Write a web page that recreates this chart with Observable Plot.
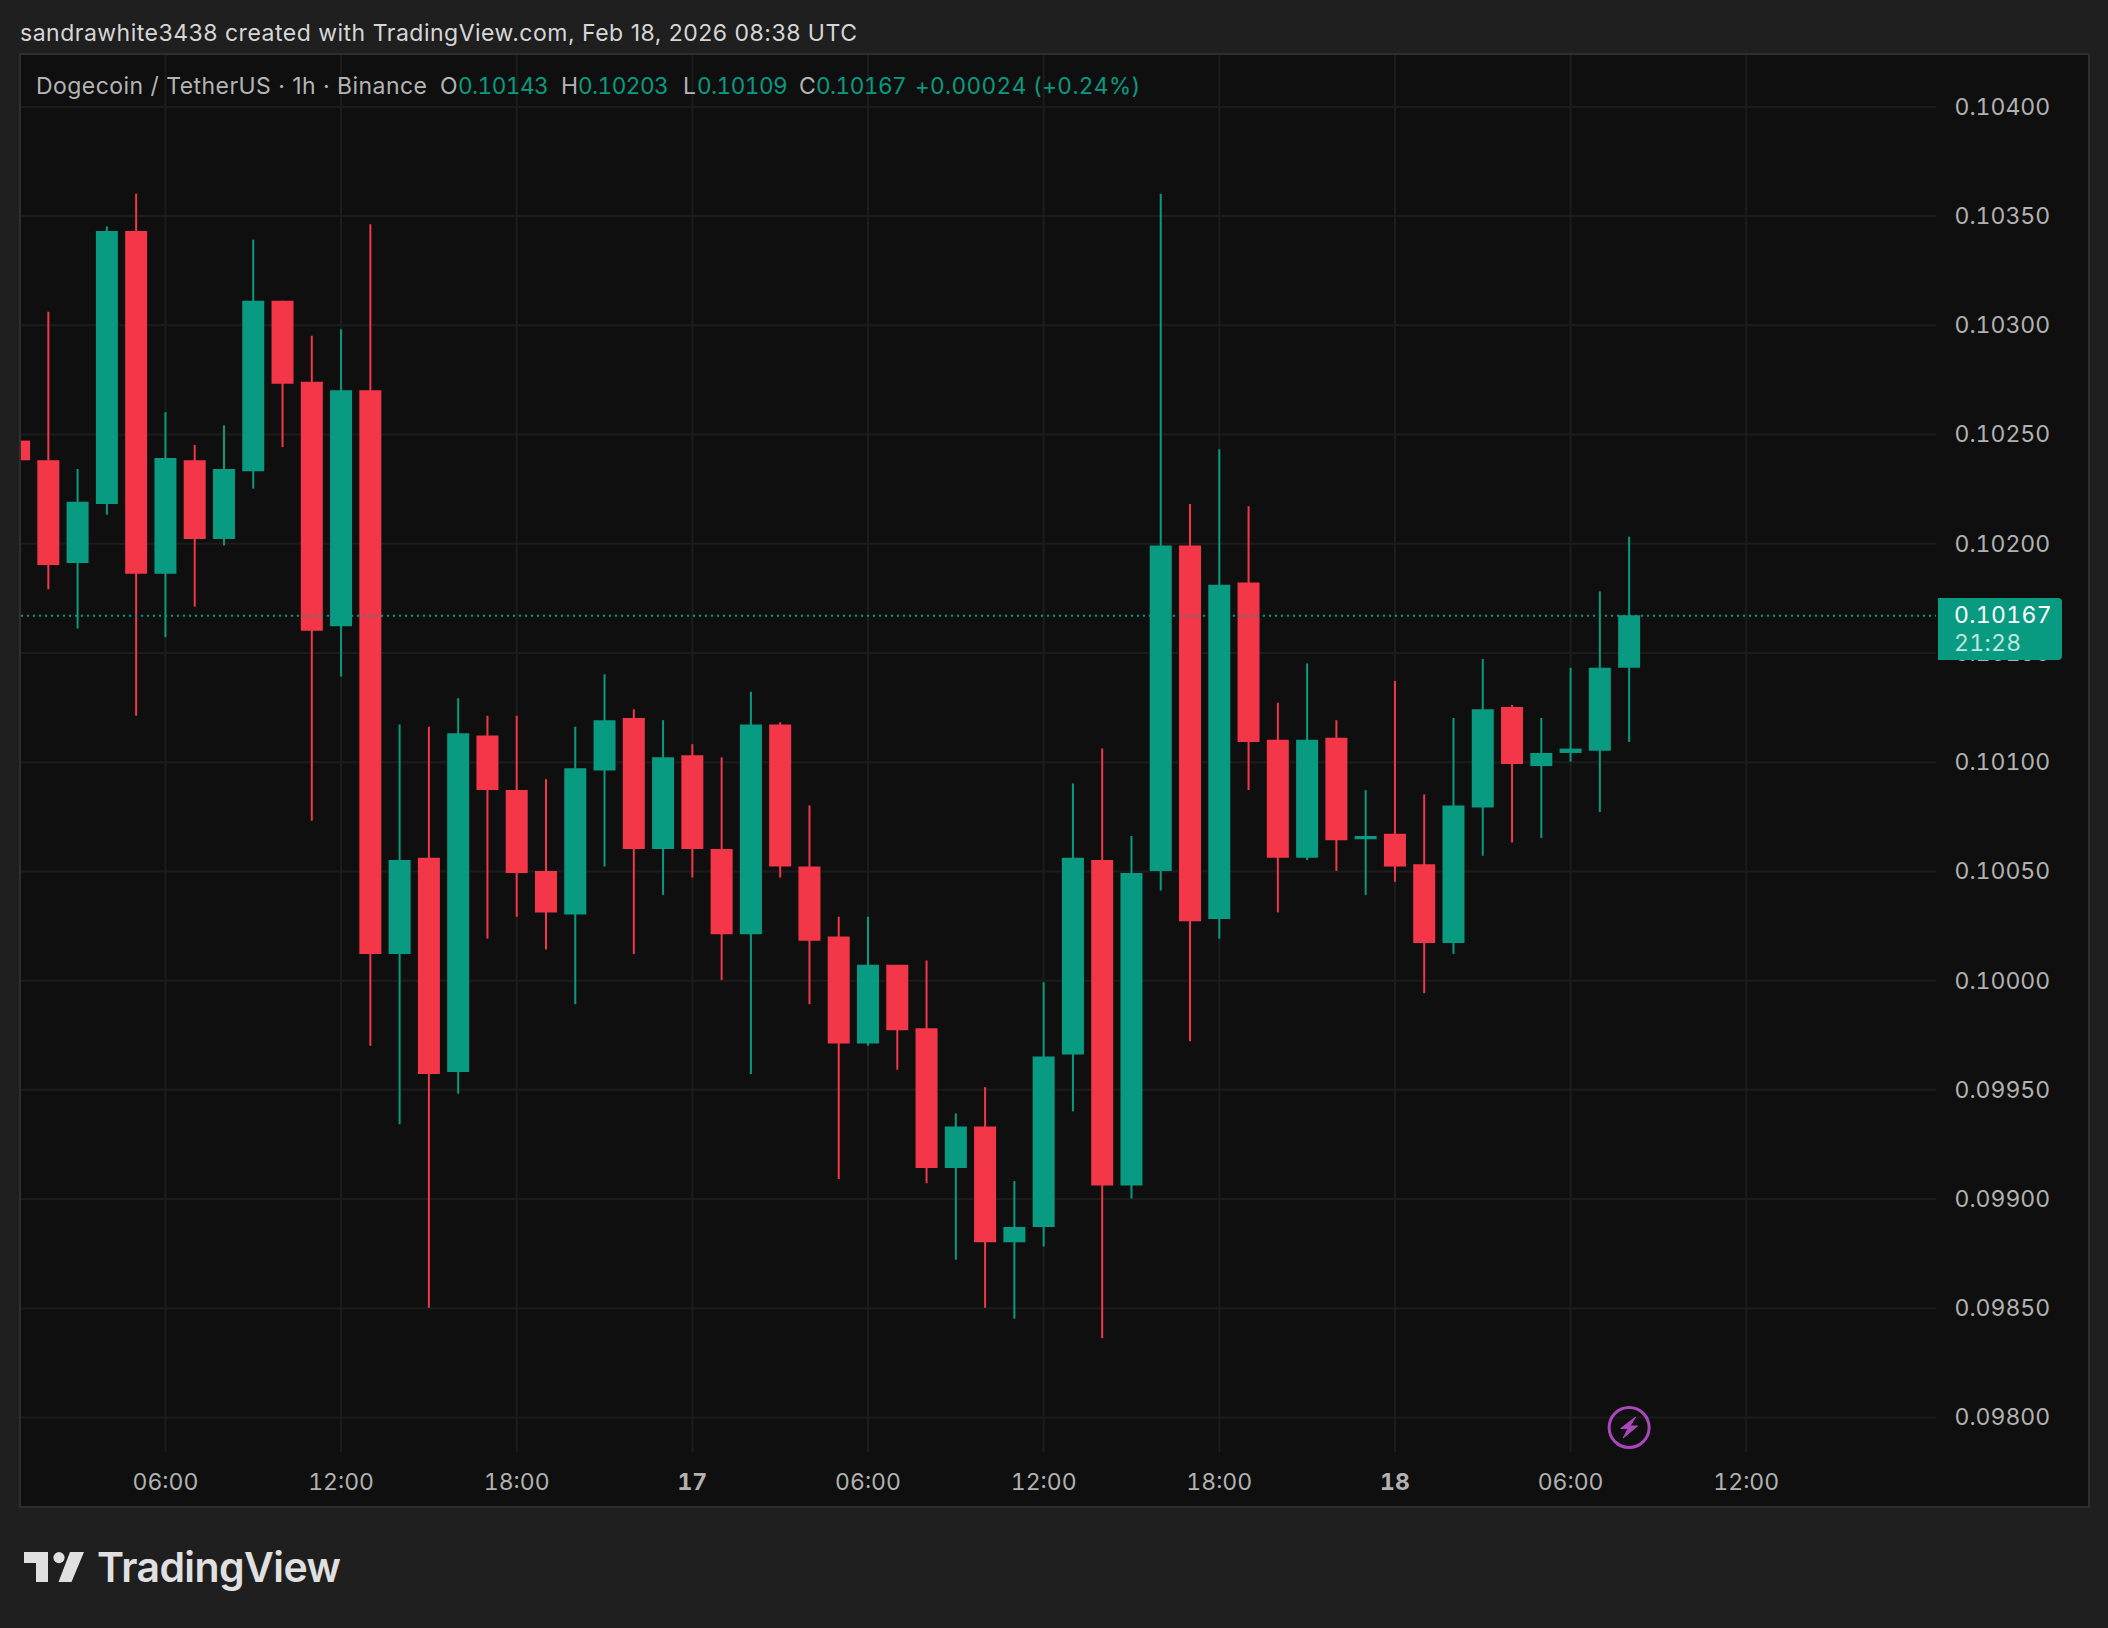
<!DOCTYPE html>
<html>
<head>
<meta charset="utf-8">
<script src="https://cdn.jsdelivr.net/npm/d3@7"></script>
<script src="https://cdn.jsdelivr.net/npm/@observablehq/plot@0.6"></script>
<style>
  html, body { margin: 0; padding: 0; background: #1f1f1f; }
  body { width: 2108px; height: 1628px; position: relative; overflow: hidden; font-family: Inter, sans-serif; }
  #panel { position: absolute; left: 19px; top: 53px; width: 2067px; height: 1451px; border: 2px solid #2e2e2e; background: #0f0f0f; }
  #panel svg { display: block; }
  .t { position: absolute; white-space: pre; }
  #credit { left: 20px; top: 19px; font-size: 23px; letter-spacing: .5px; line-height: 28px; color: #d6d6d6; }
  .lg { top: 72px; font-size: 23px; letter-spacing: .45px; line-height: 28px; color: #b4b4b4; }
  .gr { color: #099b81; font-variant-numeric: tabular-nums; font-size: 22.6px; letter-spacing: -.55px; }
  .ch { letter-spacing: .38px; }
  #lastBox { position: absolute; left: 1938px; width: 124px; height: 62px; background: #099b81; border-radius: 0 4px 4px 0; }
  #lastBox div { position: absolute; left: 16px; font-size: 23px; line-height: 28px; letter-spacing: .35px; white-space: pre; font-variant-numeric: tabular-nums; }
  #logo { position: absolute; left: 24px; top: 1552px; }
  #brand { left: 97px; top: 1542px; font-size: 41px; line-height: 50px; font-weight: 600; color: #e0e0e0; letter-spacing: -0.6px; }
</style>
</head>
<body>
<div id="credit" class="t">sandrawhite3438 created with TradingView.com, Feb 18, 2026 08:38 UTC</div>
<div id="panel"></div>
<div class="t lg" style="left:36px">Dogecoin / TetherUS · 1h · Binance</div>
<div class="t lg" style="left:440px">O</div><div class="t lg gr" style="left:458px">0.10143</div>
<div class="t lg" style="left:561px">H</div><div class="t lg gr" style="left:578px">0.10203</div>
<div class="t lg" style="left:683px">L</div><div class="t lg gr" style="left:697px">0.10109</div>
<div class="t lg" style="left:799px">C</div><div class="t lg gr" style="left:816px">0.10167</div>
<div class="t lg gr ch" style="left:915px">+0.00024 (+0.24%)</div>
<div id="lastBox"><div style="top:3px;color:#fff">0.10167</div><div style="top:31px;color:#bfe5dd">21:28</div></div>
<svg id="logo" width="62" height="31" viewBox="0 0 62 31"><path fill="#e0e0e0" d="M0 0H24V30H12V11H0Z M46 0H60L47.5 30H34.5Z"/><circle fill="#e0e0e0" cx="35" cy="5.6" r="5.6"/></svg>
<div id="brand" class="t">TradingView</div>
<script>
// Hourly candles, Dogecoin / TetherUS, Binance; first bar 2026-02-16 01:00 UTC. Values in units of 0.00001.
const firstBar = Date.UTC(2026, 1, 16, 1);
const opens  = [10247,10238,10191,10218,10343,10186,10238,10202,10233,10311,10274,10162,10270,10012,10056,9958,10112,10087,10050,10030,10096,10120,10060,10103,10060,10021,10117,10052,10020,9971,10007,9978,9914,9933,9880,9887,9966,10055,9906,10050,10199,10028,10182,10110,10056,10111,10064.5,10067,10053,10017,10079,10125,10098,10104,10105,10143];
const closes = [10238,10190,10219,10343,10186,10239,10202,10234,10311,10273,10160,10270,10012,10055,9957,10113,10087,10049,10031,10097,10119,10060,10102,10060,10021,10117,10052,10018,9971,10007,9977,9914,9933,9880,9887,9965,10056,9906,10049,10199,10027,10181,10109,10056,10110,10064,10066,10052,10017,10080,10124,10099,10104,10106,10143,10167];
const highs  = [10247,10306,10234,10345,10360,10260,10245,10254,10339,10311,10295,10298,10346,10117,10116,10129,10121,10121,10092,10116,10140,10124,10119,10108,10102,10132,10118,10080,10029,10029,10007,10009,9939,9951,9908,9999,10090,10106,10066,10360,10218,10243,10217,10127,10145,10119,10087,10137,10085,10120,10147,10126,10120,10143,10178,10203];
const lows   = [10238,10179,10161,10213,10121,10157,10171,10199,10225,10244,10073,10139,9970,9934,9850,9948,10019,10029,10014,9989,10052,10012,10039,10047,10000,9957,10047,9989,9909,9970,9959,9907,9872,9850,9845,9878,9940,9836,9900,10041,9972,10019,10087,10031,10055,10050,10039,10045,9994,10012,10057,10063,10065,10100,10077,10109];
const yTicks = [0.098,0.0985,0.099,0.0995,0.1,0.1005,0.101,0.1015,0.102,0.1025,0.103,0.1035,0.104];
const hourTicks = [[16,6],[16,12],[16,18],[17,6],[17,12],[17,18],[18,6],[18,12]];
const hourLabels = ["06:00","12:00","18:00","06:00","12:00","18:00","06:00","12:00"];
const dayTicks = [[17,0],[18,0]];
const dayLabels = ["17","18"];
const lastClose = 0.10167;

const UP = "#099b81", DOWN = "#f43748", GRID = "#1c1c1c", AXIS = "#b2b2b2", EVENT = "#ab47bc";
const at = ([d, h]) => new Date(Date.UTC(2026, 1, d, h));
const candles = opens.map((o, i) => ({
  time: new Date(firstBar + i * 3600e3),
  open: o / 1e5, close: closes[i] / 1e5, high: highs[i] / 1e5, low: lows[i] / 1e5,
  color: closes[i] >= o ? UP : DOWN
}));
const hourDates = hourTicks.map(at), dayDates = dayTicks.map(at);
const lastBar = candles[candles.length - 1];
const bolt = { draw(c, size) { const s = Math.sqrt(size / Math.PI) / 20;
  c.moveTo(6.5*s,-10.5*s); c.lineTo(-8.5*s,1*s); c.lineTo(-1*s,1*s); c.lineTo(-6*s,10.5*s); c.lineTo(8.5*s,-1.5*s); c.lineTo(1*s,-1.5*s); c.closePath(); } };

const chart = Plot.plot({
  width: 2067, height: 1451,
  marginLeft: 0, marginRight: 152, marginTop: 0, marginBottom: 54,
  style: { background: "transparent", fontFamily: "Inter, sans-serif", overflow: "visible" },
  x: { type: "utc", domain: [new Date(Date.UTC(2026,1,16,1,5)), new Date(Date.UTC(2026,1,18,18,30))], range: [0, 1915] },
  y: { domain: [0.098, 0.104], range: [1362, 51.4] },
  marks: [
    Plot.ruleY(yTicks, { stroke: GRID, strokeWidth: 2 }),
    Plot.ruleX([...hourDates, ...dayDates], { stroke: GRID, strokeWidth: 2 }),
    Plot.axisY(yTicks, { anchor: "right", tickSize: 0, tickPadding: 18, label: null, textAnchor: "start",
      tickFormat: d3.format(".5f"), fontSize: 23, fill: AXIS, letterSpacing: ".7px", dy: .5 }),
    Plot.axisX(hourDates, { anchor: "bottom", tickSize: 0, tickPadding: 20, label: null,
      tickFormat: (d, i) => hourLabels[i], fontSize: 23, fill: AXIS, letterSpacing: ".4px", dy: 1 }),
    Plot.axisX(dayDates, { anchor: "bottom", tickSize: 0, tickPadding: 20, label: null,
      tickFormat: (d, i) => dayLabels[i], fontSize: 23, fontWeight: 700, fill: AXIS, dy: 1 }),
    Plot.ruleX(candles, { x: "time", y1: "low", y2: "high", stroke: "color", strokeWidth: 2, clip: "frame" }),
    Plot.ruleX(candles, { x: "time", y1: "open", y2: "close", stroke: "color", strokeWidth: 22, clip: "frame" }),
    Plot.ruleY([lastClose], { stroke: UP, strokeWidth: 2, strokeDasharray: "2,4" }),
    Plot.dot([lastBar], { x: "time", frameAnchor: "bottom", dy: -25, r: 20, stroke: EVENT, strokeWidth: 3, fill: "none" }),
    Plot.dot([lastBar], { x: "time", frameAnchor: "bottom", dy: -25, r: 20, symbol: bolt, fill: EVENT, stroke: EVENT, strokeWidth: 1 })
  ]
});
document.getElementById("panel").appendChild(chart);
document.getElementById("lastBox").style.top = (55 + chart.scale("y").apply(lastClose) - 17) + "px";
</script>
</body>
</html>
